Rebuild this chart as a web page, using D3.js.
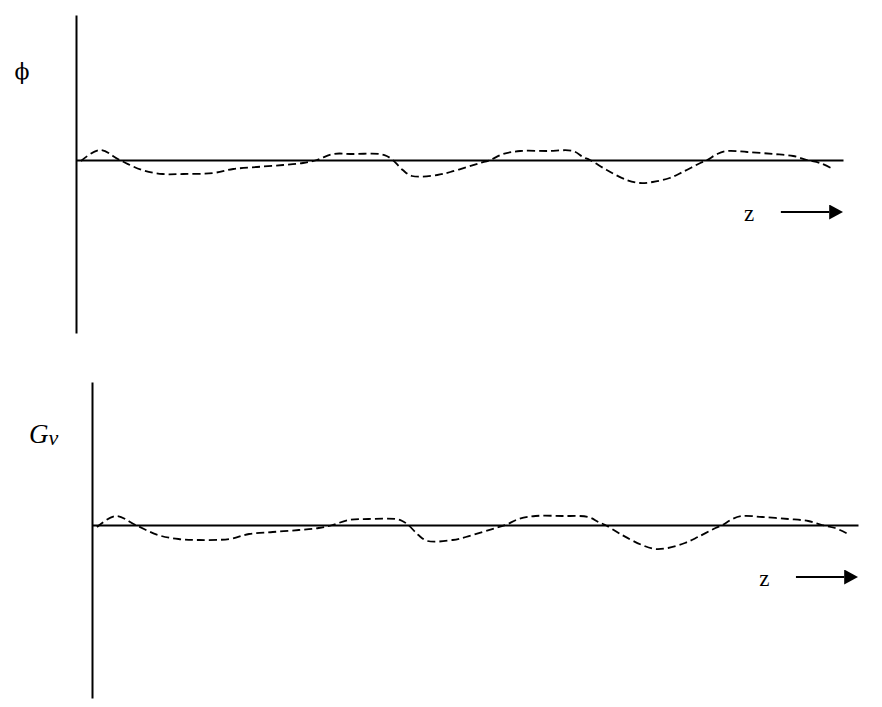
<!DOCTYPE html>
<html>
<head>
<meta charset="utf-8">
<script src="https://cdn.jsdelivr.net/npm/d3@7"></script>
<style>
  html, body { margin: 0; padding: 0; background: #fff; }
  svg { display: block; }
</style>
</head>
<body>
<svg id="chart" width="882" height="707"></svg>
<script>
// ---- data (z in arbitrary units 0..100, amplitude in arbitrary units) ----
const zValues = [0.65, 3.1, 5.7, 8.6, 11.3, 14.0, 17.9, 20.5, 23.6, 27.0, 29.6, 31.4, 33.5, 36.1, 39.6, 40.5, 41.3, 42.6, 43.8, 47.1, 48.8, 51.0, 52.7, 54.0, 55.7, 57.9, 61.4, 64.8, 66.1, 67.0, 69.2, 71.8, 73.5, 75.2, 77.4, 79.1, 81.4, 82.3, 83.6, 84.9, 87.5, 90.9, 93.5, 95.3, 97.0, 98.7];
const phiValues = [-0.1, 1.0, 0.0, -1.0, -1.4, -1.4, -1.3, -0.9, -0.7, -0.5, -0.3, 0.0, 0.6, 0.6, 0.6, 0.4, 0.0, -1.0, -1.6, -1.5, -1.2, -0.7, -0.3, 0.0, 0.6, 0.9, 0.9, 0.9, 0.3, 0.0, -1.0, -2.0, -2.3, -2.2, -1.8, -1.2, -0.3, 0.0, 0.6, 0.9, 0.8, 0.6, 0.4, 0.0, -0.3, -0.9];
const gvValues = [-0.2, 0.9, 0.0, -1.0, -1.4, -1.5, -1.4, -0.9, -0.7, -0.5, -0.3, 0.0, 0.5, 0.6, 0.6, 0.4, 0.0, -1.0, -1.6, -1.5, -1.2, -0.7, -0.3, 0.0, 0.6, 0.9, 0.9, 0.8, 0.3, 0.0, -1.0, -2.0, -2.4, -2.3, -1.8, -1.2, -0.3, 0.0, 0.6, 0.9, 0.8, 0.6, 0.4, 0.0, -0.3, -0.9];
const panelLabels = ["\u03D5", "G"];
const axisLabel = "z";

const svg = d3.select("#chart");

const defs = svg.append("defs");
defs.append("marker")
  .attr("id", "arrowHead")
  .attr("viewBox", "0 0 14 15")
  .attr("refX", 0).attr("refY", 7.5)
  .attr("markerWidth", 14).attr("markerHeight", 15)
  .attr("markerUnits", "userSpaceOnUse")
  .attr("orient", "auto")
  .append("path").attr("d", "M0,0 L14,7.5 L0,15 Z").attr("fill", "#000");

function drawPanel(cfg) {
  const x = d3.scaleLinear().domain([0, 100]).range([cfg.left, cfg.right]);
  const y = d3.scaleLinear().domain([-17.3, cfg.yTop]).range([cfg.bottom, cfg.top]);
  const g = svg.append("g");

  // vertical axis
  const yAxis = g.append("g")
    .attr("transform", `translate(${cfg.left},0)`)
    .call(d3.axisLeft(y).ticks(0).tickSizeOuter(0));
  yAxis.select(".domain").attr("stroke", "#000").attr("stroke-width", 2);

  // horizontal zero line
  const xAxis = g.append("g")
    .attr("transform", `translate(0,${y(0)})`)
    .call(d3.axisBottom(x).ticks(0).tickSizeOuter(0));
  xAxis.select(".domain").attr("stroke", "#000").attr("stroke-width", 2);

  // dashed curve
  const pts = zValues.map((z, i) => [z, cfg.values[i]]);
  const line = d3.line()
    .x(d => x(d[0])).y(d => y(d[1]))
    .curve(d3.curveCatmullRom.alpha(0.5));
  g.append("path")
    .datum(pts)
    .attr("d", line)
    .attr("fill", "none")
    .attr("stroke", "#000")
    .attr("stroke-width", 1.8)
    .attr("stroke-dasharray", "8,4");

  // z label + arrow
  const zy = y(0) + 52;
  g.append("text")
    .attr("x", x(87.1)).attr("y", y(0) + 61)
    .attr("font-family", "Liberation Serif, Times New Roman, serif")
    .attr("font-size", 23)
    .attr("fill", "#000")
    .text(axisLabel);
  g.append("line")
    .attr("x1", x(91.9)).attr("x2", x(98.2))
    .attr("y1", zy).attr("y2", zy)
    .attr("stroke", "#000").attr("stroke-width", 2)
    .attr("marker-end", "url(#arrowHead)");

  return { g, x, y };
}

const topPanel = drawPanel({ left: 76, right: 843, top: 15, bottom: 333, yTop: 14.5, values: phiValues });
const botPanel = drawPanel({ left: 92, right: 858, top: 382, bottom: 698, yTop: 14.3, values: gvValues });

// panel labels
topPanel.g.append("text")
  .attr("x", 22).attr("y", 79)
  .attr("text-anchor", "middle")
  .attr("font-family", "DejaVu Serif, Liberation Serif, serif")
  .attr("font-size", 22)
  .attr("fill", "#000")
  .text(panelLabels[0]);

const gvText = botPanel.g.append("text")
  .attr("x", 29).attr("y", 443)
  .attr("font-family", "Liberation Serif, Times New Roman, serif")
  .attr("font-style", "italic")
  .attr("font-size", 27)
  .attr("fill", "#000");
gvText.append("tspan").text(panelLabels[1]);
gvText.append("tspan").attr("dy", 2).attr("font-size", 22).text("v");
</script>
</body>
</html>
